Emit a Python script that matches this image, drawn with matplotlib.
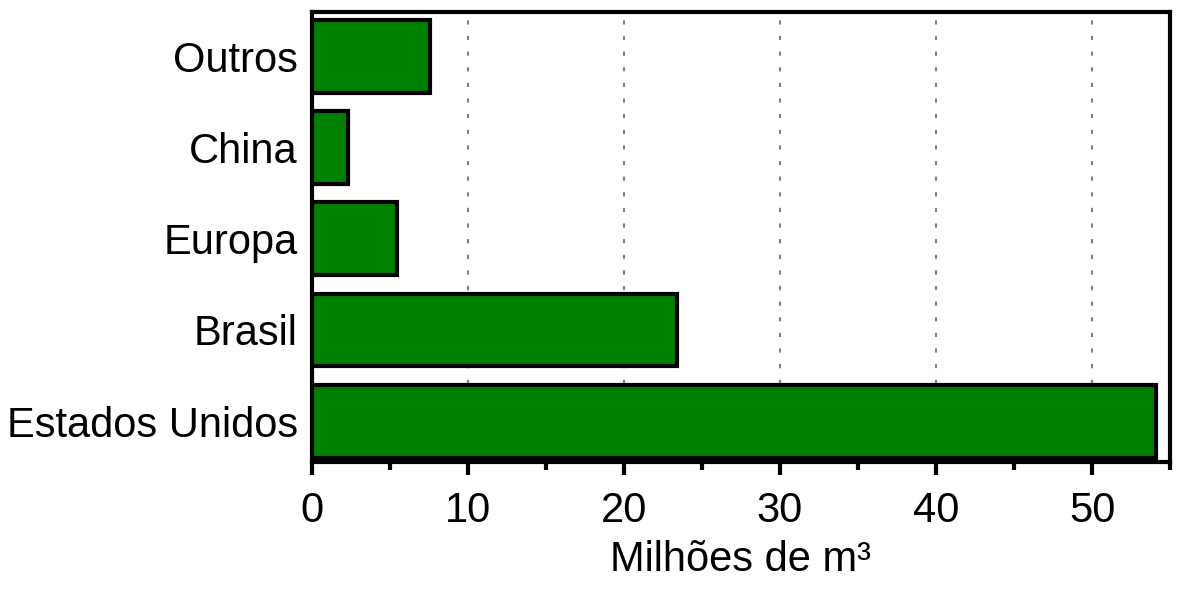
import matplotlib.pyplot as plt
from matplotlib.ticker import MultipleLocator

plt.rcParams['font.family'] = ['Liberation Sans', 'DejaVu Sans']

regions = ["Estados Unidos", "Brasil", "Europa", "China", "Outros"]
values = [54.1, 23.4, 5.45, 2.3, 7.55]

fig = plt.figure(figsize=(11.81, 5.91), dpi=100)
ax = fig.add_axes([0.264, 0.218, 0.7267, 0.762])

ax.barh(range(len(regions)), values, height=0.8, color="#008000",
        edgecolor="black", linewidth=3, zorder=3)

ax.set_xlim(0, 55)
ax.set_ylim(-0.45, 4.49)
ax.set_yticks(range(len(regions)))
ax.set_yticklabels(regions)
ax.xaxis.set_major_locator(MultipleLocator(10))
ax.xaxis.set_minor_locator(MultipleLocator(5))

ax.grid(axis="x", which="major", linestyle=(0, (2, 5.5)), color="gray",
        linewidth=1.5, zorder=0)

for s in ax.spines.values():
    s.set_linewidth(3)

ax.tick_params(axis="y", length=0, pad=10, labelsize=30)
ax.tick_params(axis="x", which="major", length=9, width=3, pad=12, labelsize=30)
ax.tick_params(axis="x", which="minor", length=6, width=3)

ax.set_xlabel("Milhões de m³", fontsize=30, labelpad=6)

fig.savefig("out.png", dpi=100)
